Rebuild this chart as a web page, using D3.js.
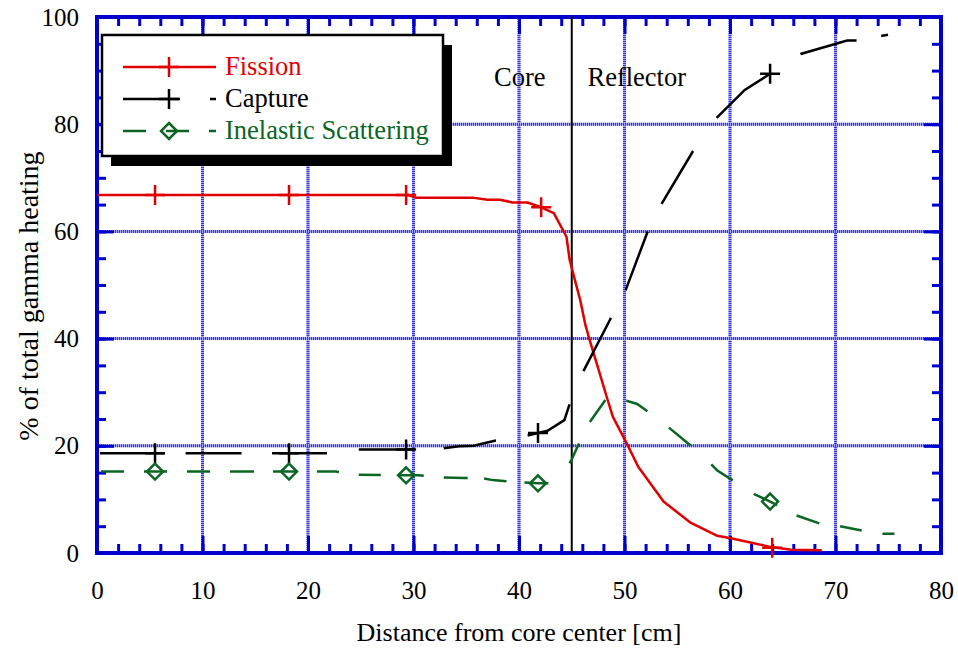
<!DOCTYPE html>
<html>
<head>
<meta charset="utf-8">
<script src="https://cdn.jsdelivr.net/npm/d3@7/dist/d3.min.js"></script>
<style>
  html, body { margin: 0; padding: 0; background: #fff; }
  svg { display: block; }
  svg text { font-family: "Liberation Serif", "Times New Roman", Times, "DejaVu Serif", serif; }
</style>
</head>
<body>
<svg id="chart" width="958" height="650"></svg>
<script>
// ---- data ----
const fission = [[0,66.8],[29.5,66.8],[30.2,66.3],[35.6,66.3],[37,65.9],[38.2,65.9],[39.4,65.4],[40.8,65.4],[42.1,64.5],[43.3,63.4],[44.5,59.0],[44.8,54.7],[45.3,50.9],[45.8,47.2],[46.3,42.5],[46.7,39.7],[47.5,34.5],[48.3,29.2],[48.9,25.4],[50.2,20.5],[51.3,16.1],[53.7,9.6],[56.3,5.6],[58.8,3.2],[60.2,2.7],[63.9,1.1],[65.8,0.6],[68.7,0.5]];
const capture = [[0,18.6],[5.5,18.6],[18.2,18.6],[21.8,18.6],[24.8,19.3],[29.3,19.3],[32.7,19.5],[34.3,19.9],[35.7,20.0],[37.8,21.0],[40.8,21.9],[41.8,22.4],[42.7,22.8],[44.3,24.8],[44.8,27.8],[46.1,33.9],[48.7,43.8],[50.1,49],[52.2,60],[53.5,65.1],[56.5,75.0],[58.7,81.1],[61.4,86.4],[63.8,89.4],[66.7,93.1],[71.1,95.6],[72,95.6],[75,96.7]];
const inelastic = [[0,15.2],[5.5,15.2],[18.2,15.2],[22.6,15.2],[24.8,14.6],[29.3,14.5],[30.5,14.5],[32.7,14.1],[34.8,14.0],[36.7,13.9],[37.5,13.6],[38.8,13.4],[41.8,13.0],[42.8,13.0],[44,13.6],[45,17.5],[45.7,20.5],[46.7,24.4],[48.2,28.6],[50.2,28.4],[51.2,27.8],[52.2,26.4],[54.2,23.4],[56.3,20.0],[58.2,16.6],[58.8,15.4],[60.3,13.5],[62.3,11.0],[63.8,9.6],[64.5,8.9],[66.3,7.0],[68.5,5.5],[70.4,5.0],[72.5,4.2],[74.5,3.6],[75.6,3.6]];
const fissionMarkers = [[5.5,66.8],[18.2,66.8],[29.3,66.8],[42.1,64.5],[64.0,1.0]];
const captureMarkers = [[5.5,18.6],[18.2,18.6],[29.3,19.3],[41.8,22.4],[63.8,89.4]];
const inelasticMarkers = [[5.5,15.2],[18.2,15.2],[29.3,14.5],[41.8,13.0],[63.8,9.6]];
const xMajorTicks = [0,10,20,30,40,50,60,70,80];
const yMajorTicks = [0,20,40,60,80,100];
const legendLabels = ["Fission","Capture","Inelastic Scattering"];
const regionLabels = ["Core","Reflector"];
const boundaryX = 45;
const xTitle = "Distance from core center [cm]";
const yTitle = "% of total gamma heating";

// ---- styles ----
const BLUE = "#0000cc", RED = "#e00000", GREEN = "#0b6623", BLACK = "#000";
// irregular dash patterns as they appear in the original drawing (px along the path)
const captureDash = "0,3,64.5,21.1,55.9,30.5,55,32,56,29,53,32,57,36,60,31,63,31,61.5,40.5,69,37,58,25,7,80";
const inelasticDash = "0,4,23,20,23,20,23,20,24,19,24,20,22,20,22,17,26,20,24,16.5,22.5,18,24,32,22,24,27,21,24,27,28,28,27,25,26,22,24,21,22,21,12,60";

// ---- layout ----
const svg = d3.select("#chart");
const L = 97, R = 941, T = 17, B = 553;
const x = d3.scaleLinear().domain([0,80]).range([L,R]);
const y = d3.scaleLinear().domain([0,100]).range([B,T]);

// grid
const grid = svg.append("g");
function gridLine(x1,y1,x2,y2){
  grid.append("line").attr("x1",x1).attr("y1",y1).attr("x2",x2).attr("y2",y2)
    .attr("stroke","#a8a8f4").attr("stroke-width",3);
  grid.append("line").attr("x1",x1).attr("y1",y1).attr("x2",x2).attr("y2",y2)
    .attr("stroke","#3434e6").attr("stroke-width",3).attr("stroke-dasharray","1,1");
}
xMajorTicks.slice(1,-1).forEach(v => gridLine(x(v),T,x(v),B));
yMajorTicks.slice(1,-1).forEach(v => gridLine(L,y(v),R,y(v)));

// axes ticks (inward) on all four sides
const xMinor = d3.range(0,81,2), yMinor = d3.range(0,101,5);
function styleAxis(g){
  g.attr("font-family",null);
  g.select(".domain").remove();
  g.selectAll(".tick line").attr("stroke",BLUE).attr("stroke-width",3);
  g.selectAll("text").attr("font-size",25).attr("fill","#000");
}
svg.append("g").attr("transform",`translate(0,${B})`)
  .call(d3.axisBottom(x).tickValues(xMinor).tickSize(-9).tickFormat("")).call(styleAxis);
svg.append("g").attr("transform",`translate(0,${B})`)
  .call(d3.axisBottom(x).tickValues(xMajorTicks).tickSize(-17).tickPadding(28).tickFormat(d3.format("d")))
  .call(styleAxis);
svg.append("g").attr("transform",`translate(0,${T})`)
  .call(d3.axisTop(x).tickValues(xMinor).tickSize(-9).tickFormat("")).call(styleAxis);
svg.append("g").attr("transform",`translate(0,${T})`)
  .call(d3.axisTop(x).tickValues(xMajorTicks).tickSize(-17).tickFormat("")).call(styleAxis);
svg.append("g").attr("transform",`translate(${L},0)`)
  .call(d3.axisLeft(y).tickValues(yMinor).tickSize(-9).tickFormat("")).call(styleAxis);
svg.append("g").attr("transform",`translate(${L},0)`)
  .call(d3.axisLeft(y).tickValues(yMajorTicks).tickSize(-17).tickPadding(18).tickFormat(d3.format("d")))
  .call(styleAxis);
svg.append("g").attr("transform",`translate(${R},0)`)
  .call(d3.axisRight(y).tickValues(yMinor).tickSize(-9).tickFormat("")).call(styleAxis);
svg.append("g").attr("transform",`translate(${R},0)`)
  .call(d3.axisRight(y).tickValues(yMajorTicks).tickSize(-17).tickFormat("")).call(styleAxis);

// frame
svg.append("rect").attr("x",L).attr("y",T).attr("width",R-L).attr("height",B-T)
  .attr("fill","none").attr("stroke",BLUE).attr("stroke-width",4);

// boundary line and region labels
svg.append("line").attr("x1",x(boundaryX)).attr("x2",x(boundaryX)).attr("y1",T).attr("y2",B)
  .attr("stroke",BLACK).attr("stroke-width",2);
svg.append("text").attr("x",x(boundaryX)-52).attr("y",y(87.1)).attr("text-anchor","middle")
  .attr("font-size",26.5).text(regionLabels[0]);
svg.append("text").attr("x",x(boundaryX)+65).attr("y",y(87.1)).attr("text-anchor","middle")
  .attr("font-size",26.5).text(regionLabels[1]);

// lines
const line = d3.line().x(d=>x(d[0])).y(d=>y(d[1]));
svg.append("path").datum(fission).attr("d",line).attr("fill","none")
  .attr("stroke",RED).attr("stroke-width",2.5).attr("stroke-linejoin","round");
svg.append("path").datum(capture).attr("d",line).attr("fill","none")
  .attr("stroke",BLACK).attr("stroke-width",2.5).attr("stroke-dasharray",captureDash);
svg.append("path").datum(inelastic).attr("d",line).attr("fill","none")
  .attr("stroke",GREEN).attr("stroke-width",2.5).attr("stroke-dasharray",inelasticDash);

// markers
function plus(g, cx, cy, color){
  g.append("path").attr("d",`M${cx-10},${cy}H${cx+10}M${cx},${cy-10}V${cy+10}`)
    .attr("stroke",color).attr("stroke-width",2.5).attr("fill","none");
}
function diamond(g, cx, cy, color){
  g.append("path").attr("d",`M${cx},${cy-8}L${cx+8},${cy}L${cx},${cy+8}L${cx-8},${cy}Z`)
    .attr("stroke",color).attr("stroke-width",2.5).attr("fill","none");
}
const mk = svg.append("g");
fissionMarkers.forEach(d => plus(mk, x(d[0]), y(d[1]), RED));
captureMarkers.forEach(d => plus(mk, x(d[0]), y(d[1]), BLACK));
inelasticMarkers.forEach(d => diamond(mk, x(d[0]), y(d[1]), GREEN));

// legend
const lg = svg.append("g");
lg.append("rect").attr("x",111).attr("y",45).attr("width",341).attr("height",121).attr("fill","#000");
lg.append("rect").attr("x",102).attr("y",35).attr("width",341).attr("height",121)
  .attr("fill","#fff").attr("stroke","#000").attr("stroke-width",2.5);
const rows = [
  {label:legendLabels[0], color:RED, dash:null, marker:"plus", y:67},
  {label:legendLabels[1], color:BLACK, dash:"57,30", marker:"plus", y:99},
  {label:legendLabels[2], color:GREEN, dash:"23,20", marker:"diamond", y:131}
];
rows.forEach(r => {
  const p = lg.append("line").attr("x1",123).attr("x2",216).attr("y1",r.y).attr("y2",r.y)
    .attr("stroke",r.color).attr("stroke-width",2.5);
  if (r.dash) p.attr("stroke-dasharray",r.dash);
  if (r.marker==="plus") plus(lg,169,r.y,r.color); else diamond(lg,169,r.y,r.color);
  lg.append("text").attr("x",225).attr("y",r.y+8).attr("font-size",26.5)
    .attr("fill", r.color).text(r.label);
});

// axis titles
svg.append("text").attr("x",519).attr("y",641).attr("text-anchor","middle")
  .attr("font-size",26).text(xTitle);
svg.append("text").attr("transform",`translate(38,296) rotate(-90)`)
  .attr("text-anchor","middle").attr("font-size",28).text(yTitle);
</script>
</body>
</html>
